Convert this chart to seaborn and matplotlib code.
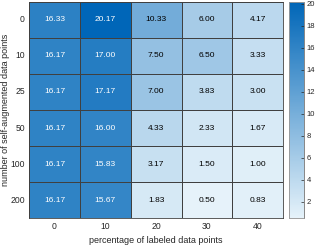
import numpy as np
import pandas as pd
import matplotlib
matplotlib.use("Agg")
import matplotlib.pyplot as plt
import seaborn as sns
from matplotlib.colors import LinearSegmentedColormap

# data
labeled_pct = [0, 10, 20, 30, 40]
self_aug = [0, 10, 25, 50, 100, 200]
errors = [
    [16.33, 20.17, 10.33, 6.00, 4.17],
    [16.17, 17.00, 7.50, 6.50, 3.33],
    [16.17, 17.17, 7.00, 3.83, 3.00],
    [16.17, 16.00, 4.33, 2.33, 1.67],
    [16.17, 15.83, 3.17, 1.50, 1.00],
    [16.17, 15.67, 1.83, 0.50, 0.83],
]

df = pd.DataFrame(errors, index=self_aug, columns=labeled_pct)

plt.rcParams['font.family'] = ['Liberation Sans', 'DejaVu Sans']
cmap = LinearSegmentedColormap.from_list("sky", [(0.9, 0.95, 0.98), (0.0, 0.40, 0.72)])

fig = plt.figure(figsize=(3.16, 2.45), dpi=100)
ax = fig.add_axes([0.092, 0.110, 0.804, 0.882])
cax = fig.add_axes([0.915, 0.110, 0.047, 0.882])

vmin, vmax = df.values.min(), df.values.max()
sns.heatmap(df, ax=ax, cbar_ax=cax, cmap=cmap, vmin=vmin, vmax=vmax,
            linewidths=0.6, linecolor="#404040", annot=False)

# annotations: white on dark cells, black on light ones
for i, row in enumerate(errors):
    for j, v in enumerate(row):
        col = "white" if (v - vmin) / (vmax - vmin) > 0.55 else "black"
        ax.text(j + 0.5, i + 0.5, f"{v:.2f}", ha="center", va="center",
                fontsize=6, color=col)

ax.tick_params(length=0, labelsize=6.2, colors="#262626", pad=3)
ax.set_yticklabels(self_aug, rotation=0)
ax.set_xticklabels(labeled_pct, rotation=0)
ax.set_xlabel("percentage of labeled data points", fontsize=6.5, color="#262626")
ax.set_ylabel("number of self-augmented data points", fontsize=6.5, color="#262626")
ax.xaxis.set_label_coords(0.5, -0.085)
ax.yaxis.set_label_coords(-0.075, 0.5)
for s in ax.spines.values():
    s.set_visible(True)
    s.set_color("#404040")
    s.set_linewidth(0.6)

cax.set_yticks([2, 4, 6, 8, 10, 12, 14, 16, 18, 20])
cax.tick_params(labelsize=5.5, length=2, width=0.5, colors="#262626", direction="in", pad=2)
for s in cax.spines.values():
    s.set_visible(True)
    s.set_color("#999999")
    s.set_linewidth(0.5)
cax.spines["right"].set_color("#262626")

fig.savefig("out.png", dpi=100)
